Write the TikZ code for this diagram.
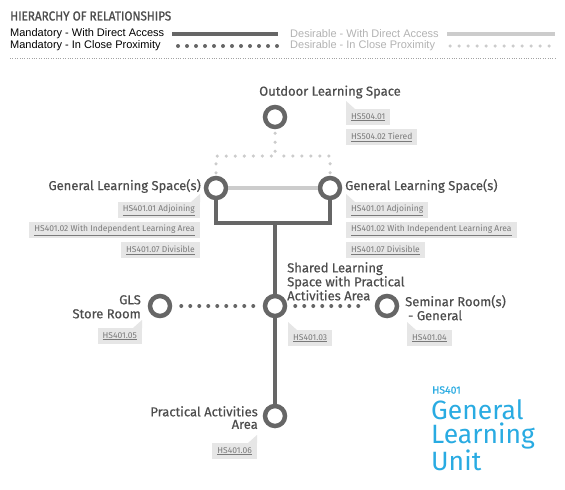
\documentclass[tikz,border=0pt]{standalone}
\usepackage{fontspec}
\setmainfont{Fira Sans}
\newfontfamily\labelfont{Fira Sans}[FakeBold=0.4]
\newfontfamily\titlefont{Fira Sans}[FakeBold=1, FakeStretch=0.9]
\newfontfamily\keyfont{Liberation Sans}

\definecolor{linegray}{HTML}{666666}
\definecolor{palegray}{HTML}{CCCCCC}
\definecolor{labelgray}{HTML}{4D4D4D}
\definecolor{keygray}{HTML}{B3B3B3}
\definecolor{tagfill}{HTML}{E6E6E6}
\definecolor{tagtext}{HTML}{7A7A7A}
\definecolor{unitblue}{HTML}{29ABE2}

\begin{document}
\begin{tikzpicture}[
  x=1pt, y=-1pt,
  space/.style={circle, draw=linegray, line width=4.5pt, fill=white,
                minimum size=20pt, inner sep=0pt},
  mand/.style={draw=linegray, line width=4pt},
  desir/.style={draw=palegray, line width=4pt},
  manddots/.style={draw=linegray, line width=4pt, line cap=round,
                   dash pattern=on 0pt off 9pt},
  desirdots/.style={draw=palegray, line width=3.5pt, line cap=round,
                    dash pattern=on 0pt off 9pt},
  lbl/.style={font=\labelfont\fontsize{13}{14}\selectfont, text=labelgray,
              inner sep=0pt},
  tag/.style={fill=tagfill, text=tagtext, font=\fontsize{8.5}{10}\selectfont,
              minimum height=16pt, inner xsep=5pt, inner ysep=0pt},
  key/.style={font=\keyfont\fontsize{11}{13}\selectfont, inner sep=0pt,
              anchor=west}
]
  \useasboundingbox[fill=white] (0,0) rectangle (565,490);

  % legend
  \node[anchor=west, inner sep=0pt, text=labelgray,
        font=\titlefont\fontsize{13}{15}\selectfont] (title) at (10,16)
    {HIERARCHY OF RELATIONSHIPS};
  \node[key] (km)  at (10,34)  {Mandatory - With Direct Access};
  \node[key] (kmp) at (10,46)  {Mandatory - In Close Proximity};
  \node[key, text=keygray] (kd)  at (290,34) {Desirable - With Direct Access};
  \node[key, text=keygray] (kdp) at (290,46) {Desirable - In Close Proximity};

  \coordinate (km1) at (172,34);  \coordinate (km2) at (278,34);
  \coordinate (kp1) at (178,46);  \coordinate (kp2) at (279,46);
  \coordinate (kd1) at (447,34);  \coordinate (kd2) at (555,34);
  \coordinate (kq1) at (450,46);  \coordinate (kq2) at (551,46);
  \draw[mand]      (km1) -- (km2);
  \draw[manddots]  (kp1) -- (kp2);
  \draw[desir]     (kd1) -- (kd2);
  \draw[desirdots] (kq1) -- (kq2);

  \coordinate (rule1) at (10,58);  \coordinate (rule2) at (555,58);
  \draw[linegray!60, line width=0.7pt, dash pattern=on 0.8pt off 1.6pt]
    (rule1) -- (rule2);

  % spaces
  \node[space] (ols)   at (275,117) {};
  \node[space] (gsl)   at (216,188) {};
  \node[space] (gsr)   at (330,188) {};
  \node[space] (sls)   at (275,306) {};
  \node[space] (store) at (160,306) {};
  \node[space] (sem)   at (387,306) {};
  \node[space] (paa)   at (275,416) {};
  \coordinate (jt) at (275,156);
  \coordinate (jb) at (275,223);

  % relationships
  \draw[desirdots, shorten <=4pt] (ols) -- (jt);
  \draw[desirdots, shorten <=3pt] (gsl) |- (jt);
  \draw[desirdots, shorten <=3pt] (gsr) |- (jt);
  \draw[desir] (gsl) -- (gsr);
  \draw[mand] (gsl) |- (jb) -| (gsr);
  \draw[mand] (jb) -- (sls);
  \draw[mand] (sls) -- (paa);
  \draw[manddots, shorten <=9pt, shorten >=8pt] (store) -- (sls);
  \draw[manddots, shorten <=8pt, shorten >=8pt] (sls) -- (sem);

  % labels
  \node[lbl] (olsl) at (330,92) {Outdoor Learning Space};
  \node[lbl, anchor=east] (gsll) at (201,186) {General Learning Space(s)};
  \node[lbl, anchor=west] (gsrl) at (345,186) {General Learning Space(s)};
  \node[lbl, anchor=north west, align=left] (slsl) at (287,262)
    {Shared Learning\\Space with Practical\\Activities Area};
  \node[lbl, anchor=north east, align=right] (storel) at (141,295)
    {GLS\\Store Room};
  \node[lbl, anchor=north west, align=left] (seml) at (405,295)
    {Seminar Room(s)\\\hspace{3pt}- General};
  \node[lbl, anchor=north east, align=right,
        font=\labelfont\fontsize{13}{12.5}\selectfont] (paal) at (258,406)
    {Practical Activities\\Area};

  % tags
  \node[tag, anchor=north west] (t5041) at (346,109) {\underline{HS504.01}};
  \node[tag, anchor=north west] (t5042) at (346,129) {\underline{HS504.02 Tiered}};
  \node[tag, anchor=north east] (tl1) at (200,202) {\underline{HS401.01 Adjoining}};
  \node[tag, anchor=north east] (tl2) at (200,222) {\underline{HS401.02 With Independent Learning Area}};
  \node[tag, anchor=north east] (tl3) at (200,242) {\underline{HS401.07 Divisible}};
  \node[tag, anchor=north west] (tr1) at (346,202) {\underline{HS401.01 Adjoining}};
  \node[tag, anchor=north west] (tr2) at (346,222) {\underline{HS401.02 With Independent Learning Area}};
  \node[tag, anchor=north west] (tr3) at (346,242) {\underline{HS401.07 Divisible}};
  \node[tag, anchor=north west] (t03) at (288,330) {\underline{HS401.03}};
  \node[tag, anchor=north east] (t05) at (142,328) {\underline{HS401.05}};
  \node[tag, anchor=north west] (t04) at (407,330) {\underline{HS401.04}};
  \node[tag, anchor=north east] (t06) at (257,443) {\underline{HS401.06}};

  \foreach \t in {t5041, tr1, t03, t04}
    \fill[tagfill] (\t.north west) -- ++(0,-8) -- ++(9,8) -- cycle;
  \foreach \t in {tl1, t05, t06}
    \fill[tagfill] (\t.north east) -- ++(0,-8) -- ++(-9,8) -- cycle;

  % unit title
  \node[anchor=west, inner sep=0pt, text=unitblue,
        font=\labelfont\fontsize{10.5}{12}\selectfont] (ucode) at (432,390) {HS401};
  \node[anchor=north west, inner sep=0pt, text=unitblue, align=left,
        font=\fontsize{26.5}{24.5}\selectfont] (uname) at (431,399)
    {General\\Learning\\Unit};
\end{tikzpicture}
\end{document}
